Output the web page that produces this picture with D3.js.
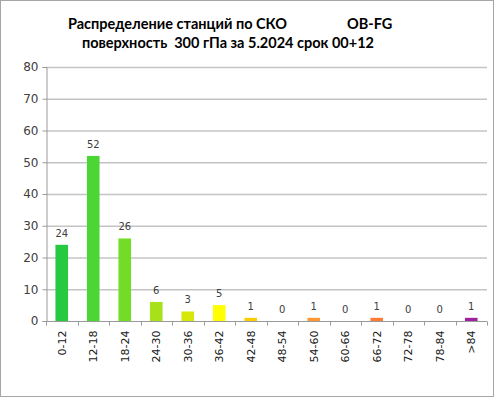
<!DOCTYPE html>
<html>
<head>
<meta charset="utf-8">
<script src="https://cdn.jsdelivr.net/npm/d3@7"></script>
<style>
  body { margin: 0; background: #fff; }
  svg { display: block; }
</style>
</head>
<body>
<script>
const categories = ['0-12', '12-18', '18-24', '24-30', '30-36', '36-42', '42-48',
  '48-54', '54-60', '60-66', '66-72', '72-78', '78-84', '>84'];
const counts = [24, 52, 26, 6, 3, 5, 1, 0, 1, 0, 1, 0, 0, 1];
const barColors = ['#26c940', '#4cd636', '#72dc26', '#a6e11a', '#d6e80a', '#ffff00', '#ffcc00',
  '#ffb030', '#ff9933', '#ff8a30', '#ff7a33', '#e05050', '#c03080', '#a0209f'];
const yTicks = [0, 10, 20, 30, 40, 50, 60, 70, 80];

function drawChart() {
  const width = 496;
  const height = 399;
  const margin = {top: 67, right: 9, bottom: 78, left: 46};

  const svg = d3.select('body').append('svg')
    .attr('width', width)
    .attr('height', height);

  // outer frame
  svg.append('rect')
    .attr('x', 0.5).attr('y', 0.5)
    .attr('width', width - 3).attr('height', height - 3)
    .attr('fill', '#fff')
    .attr('stroke', '#a6a6a6');

  const x = d3.scaleBand()
    .domain(categories)
    .range([margin.left, width - margin.right])
    .paddingInner(0.6)
    .paddingOuter(0.3);

  const y = d3.scaleLinear()
    .domain([0, 80])
    .range([height - margin.bottom, margin.top]);

  // gridlines
  svg.append('g')
    .selectAll('line')
    .data(yTicks.slice(1))
    .enter()
    .append('line')
    .attr('x1', margin.left)
    .attr('x2', width - margin.right)
    .attr('y1', d => y(d) + 0.5)
    .attr('y2', d => y(d) + 0.5)
    .style('stroke', '#c4c4c4')
    .style('stroke-width', 1.5);

  // y axis
  const yAxis = svg.append('g')
    .attr('transform', `translate(${margin.left + 0.5},0)`)
    .call(d3.axisLeft(y).tickValues(yTicks).tickSize(4).tickPadding(4));
  yAxis.selectAll('path, line').style('stroke', '#9a9a9a');
  yAxis.selectAll('text')
    .style('font-family', 'DejaVu Sans')
    .style('font-size', '12px')
    .style('fill', '#404040');

  // x axis: ticks at band boundaries
  const step = x.step();
  const x0 = margin.left;
  const xAxis = svg.append('g')
    .attr('transform', `translate(0,${y(0) + 0.5})`);
  xAxis.append('line')
    .attr('x1', x0).attr('x2', width - margin.right)
    .style('stroke', '#9a9a9a');
  xAxis.selectAll('line.tick')
    .data(d3.range(categories.length + 1))
    .enter()
    .append('line')
    .attr('class', 'tick')
    .attr('x1', i => Math.round(x0 + (width - margin.left - margin.right) / categories.length * i) + 0.5)
    .attr('x2', i => Math.round(x0 + (width - margin.left - margin.right) / categories.length * i) + 0.5)
    .attr('y1', 0).attr('y2', 4)
    .style('stroke', '#9a9a9a');
  xAxis.selectAll('text')
    .data(categories)
    .enter()
    .append('text')
    .attr('transform', d => `translate(${x(d) + x.bandwidth() / 2 + 4},9) rotate(-90)`)
    .attr('text-anchor', 'end')
    .style('font-family', 'DejaVu Sans')
    .style('font-size', '11px')
    .style('fill', '#202020')
    .text(d => d);

  // bars
  svg.append('g')
    .selectAll('rect')
    .data(counts)
    .enter()
    .append('rect')
    .attr('x', (d, i) => x(categories[i]))
    .attr('y', d => y(d))
    .attr('width', x.bandwidth())
    .attr('height', d => y(0) - y(d))
    .style('fill', (d, i) => barColors[i]);

  // data labels
  svg.append('g')
    .selectAll('text')
    .data(counts)
    .enter()
    .append('text')
    .attr('x', (d, i) => x(categories[i]) + x.bandwidth() / 2)
    .attr('y', d => y(d) - 8)
    .attr('text-anchor', 'middle')
    .style('font-family', 'DejaVu Sans')
    .style('font-size', '10px')
    .style('fill', '#404040')
    .text(d => d);

  // title
  const title = svg.append('g')
    .style('font-family', 'Lato')
    .style('font-weight', 'bold')
    .style('font-size', '14.5px')
    .style('fill', '#000');
  title.append('text')
    .attr('x', 68).attr('y', 29)
    .text('Распределение станций по СКО');
  title.append('text')
    .attr('x', 347).attr('y', 29)
    .text('OB-FG');
  title.append('text')
    .attr('x', 228).attr('y', 48)
    .attr('text-anchor', 'middle')
    .text('поверхность  300 гПа за 5.2024 срок 00+12')
    .attr('xml:space', 'preserve');
}

window.onload = drawChart;
</script>
</body>
</html>
